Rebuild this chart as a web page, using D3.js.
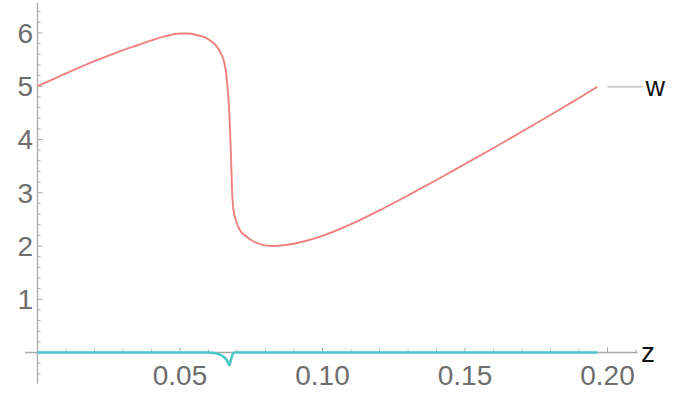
<!DOCTYPE html>
<html>
<head>
<meta charset="utf-8">
<script src="https://cdn.jsdelivr.net/npm/d3@7"></script>
<style>
  html, body { margin: 0; padding: 0; background: #fff; }
  svg { display: block; }
</style>
</head>
<body>
<svg id="chart" width="686" height="396"></svg>
<script>
// ---- data ----
const zW = [0.000, 0.010, 0.020, 0.030, 0.035, 0.040, 0.045, 0.050, 0.053, 0.056, 0.058, 0.060, 0.062, 0.063, 0.0645, 0.0655, 0.0663, 0.0668, 0.0673, 0.0677, 0.0680, 0.0683, 0.0687, 0.0695, 0.0710, 0.0735, 0.0760, 0.0790, 0.0823, 0.0870, 0.0930, 0.1000, 0.1100, 0.1200, 0.1300, 0.1400, 0.1500, 0.1600, 0.1700, 0.1800, 0.1900, 0.1965];
const wValues = [5.00, 5.24, 5.47, 5.68, 5.77, 5.86, 5.94, 5.99, 5.99, 5.96, 5.93, 5.88, 5.80, 5.74, 5.60, 5.45, 5.20, 4.90, 4.50, 4.00, 3.50, 3.00, 2.70, 2.50, 2.30, 2.17, 2.08, 2.02, 2.00, 2.02, 2.08, 2.19, 2.41, 2.67, 2.95, 3.24, 3.54, 3.84, 4.15, 4.46, 4.78, 4.99];
const zC = [0.000, 0.060, 0.062, 0.064, 0.0655, 0.0668, 0.0673, 0.0678, 0.0685, 0.0690, 0.1965];
const cValues = [0.00, 0.00, -0.01, -0.04, -0.09, -0.18, -0.24, -0.15, -0.03, 0.00, 0.00];
const xMajorTicks = [0.05, 0.10, 0.15, 0.20];
const xTickLabels = ["0.05", "0.10", "0.15", "0.20"];
const yMajorTicks = [1, 2, 3, 4, 5, 6];
const yTickLabels = ["1", "2", "3", "4", "5", "6"];
const curveLabel = "w";
const xAxisLabel = "z";

// ---- layout ----
const svg = d3.select("#chart");
const x = d3.scaleLinear().domain([0, 0.2]).range([37.5, 607.5]);
const y = d3.scaleLinear().domain([0, 6]).range([352.5, 33]);
const axisColor = "#a8a8a8";
const labelColor = "#6e6e6e";
const fontFam = "'Liberation Sans', Arial, sans-serif";

// x axis line
svg.append("line")
  .attr("x1", x(-0.0044)).attr("x2", x(0.2105))
  .attr("y1", y(0)).attr("y2", y(0))
  .attr("stroke", axisColor).attr("stroke-width", 1.3);
// y axis line
svg.append("line")
  .attr("x1", x(0)).attr("x2", x(0))
  .attr("y1", y(6.57)).attr("y2", y(-0.58))
  .attr("stroke", axisColor).attr("stroke-width", 1.3);

// x ticks (minor every 0.01, major every 0.05)
const xMinor = d3.range(1, 22).map(i => i * 0.01);
svg.append("g").selectAll("line").data(xMinor).join("line")
  .attr("x1", d => x(d)).attr("x2", d => x(d))
  .attr("y1", y(0))
  .attr("y2", d => y(0) - (Math.abs(Math.round(d * 100) % 5) === 0 ? 5 : 3))
  .attr("stroke", axisColor).attr("stroke-width", 1);

// y ticks (minor every 0.2)
const yMinor = d3.range(-2, 33).map(i => i * 0.2);
svg.append("g").selectAll("line").data(yMinor).join("line")
  .attr("x1", x(0))
  .attr("x2", d => x(0) + (Math.abs(Math.round(d * 5)) % 5 === 0 ? 5 : 3))
  .attr("y1", d => y(d)).attr("y2", d => y(d))
  .attr("stroke", axisColor).attr("stroke-width", 1);

// x tick labels
svg.append("g").selectAll("text").data(xMajorTicks).join("text")
  .attr("x", d => x(d)).attr("y", 385)
  .attr("text-anchor", "middle")
  .attr("font-family", fontFam).attr("font-size", 28)
  .attr("fill", labelColor)
  .text((d, i) => xTickLabels[i]);

// y tick labels
svg.append("g").selectAll("text").data(yMajorTicks).join("text")
  .attr("x", 33).attr("y", d => y(d))
  .attr("dy", "0.35em")
  .attr("text-anchor", "end")
  .attr("font-family", fontFam).attr("font-size", 28)
  .attr("fill", labelColor)
  .text((d, i) => yTickLabels[i]);

// axis label z
svg.append("text")
  .attr("x", 641).attr("y", y(0)).attr("dy", "0.35em")
  .attr("font-family", fontFam).attr("font-size", 28)
  .attr("fill", "#111")
  .text(xAxisLabel);

// series lines
const line = d3.line().x(d => x(d[0])).y(d => y(d[1])).curve(d3.curveMonotoneX);

svg.append("path")
  .datum(zC.map((z, i) => [z, cValues[i]]))
  .attr("d", line)
  .attr("fill", "none")
  .attr("stroke", "#4cc8cb").attr("stroke-width", 2.6)
  .attr("stroke-linejoin", "round");

svg.append("path")
  .datum(zW.map((z, i) => [z, wValues[i]]))
  .attr("d", line)
  .attr("fill", "none")
  .attr("stroke", "#ee8080").attr("stroke-width", 1.9)
  .attr("stroke-linejoin", "round");

// callout label
const endZ = zW[zW.length - 1], endW = wValues[wValues.length - 1];
svg.append("line")
  .attr("x1", x(endZ) + 10).attr("x2", x(endZ) + 45)
  .attr("y1", y(endW)).attr("y2", y(endW))
  .attr("stroke", "#cfcfcf").attr("stroke-width", 2);
svg.append("text")
  .attr("x", x(endZ) + 48).attr("y", y(endW)).attr("dy", "0.35em")
  .attr("font-family", fontFam).attr("font-size", 27)
  .attr("fill", "#111")
  .text(curveLabel);
</script>
</body>
</html>
